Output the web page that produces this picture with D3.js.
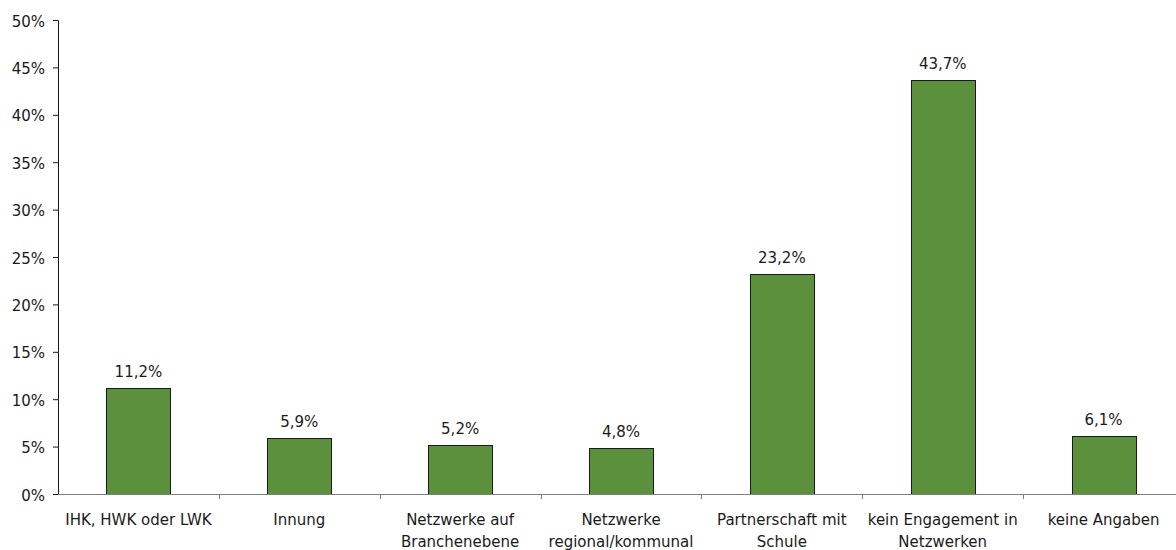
<!DOCTYPE html>
<html>
<head>
<meta charset="utf-8">
<script src="https://cdn.jsdelivr.net/npm/d3@7"></script>
<style>
body { margin: 0; background: #fff; }
text { font-family: "DejaVu Sans", sans-serif; fill: #1a1a1a; }
</style>
</head>
<body>
<svg id="chart" width="1176" height="550"></svg>
<script>
"use strict";

var categories = [
	["IHK, HWK oder LWK"],
	["Innung"],
	["Netzwerke auf", "Branchenebene"],
	["Netzwerke", "regional/kommunal"],
	["Partnerschaft mit", "Schule"],
	["kein Engagement in", "Netzwerken"],
	["keine Angaben"]
];
var values = [11.2, 5.9, 5.2, 4.8, 23.2, 43.7, 6.1];
var yTicks = [0, 5, 10, 15, 20, 25, 30, 35, 40, 45, 50];

var svg = d3.select("#chart");
var plotLeft = 58, plotRight = 1184, plotTop = 20, plotBottom = 494;

var x = d3.scaleBand()
	.domain(d3.range(categories.length))
	.range([plotLeft, plotRight]);
var y = d3.scaleLinear()
	.domain([0, 50])
	.range([plotBottom, plotTop]);

var barW = 64;

// y axis
var yAxis = svg.append("g")
	.attr("transform", "translate(" + plotLeft + ",0)")
	.call(d3.axisLeft(y).tickValues(yTicks).tickSize(5).tickPadding(8)
		.tickFormat(d => d + "%"));
yAxis.select(".domain").attr("stroke", "#1a1a1a");
yAxis.selectAll(".tick line").attr("stroke", "#1a1a1a");
yAxis.selectAll("text")
	.style("font-size", "15px")
	.attr("dy", "0.4em")
	.attr("fill", "#1a1a1a");

// bars
svg.append("g")
	.selectAll("rect")
	.data(values)
	.enter()
	.append("rect")
	.attr("x", (d, i) => Math.round(x(i) + x.bandwidth() / 2 - barW / 2) + 0.5)
	.attr("y", d => Math.round(y(d)) + 0.5)
	.attr("width", barW)
	.attr("height", d => plotBottom - Math.round(y(d)))
	.attr("fill", "#5b903c")
	.attr("stroke", "#1a1a1a")
	.attr("stroke-width", 1);

// value labels
svg.append("g")
	.selectAll("text")
	.data(values)
	.enter()
	.append("text")
	.attr("x", (d, i) => x(i) + x.bandwidth() / 2)
	.attr("y", d => y(d) - 11)
	.attr("text-anchor", "middle")
	.style("font-size", "15px")
	.text(d => d.toFixed(1).replace(".", ",") + "%");

// x axis line and ticks
var xg = svg.append("g");
xg.append("line")
	.attr("x1", plotLeft).attr("x2", 1176)
	.attr("y1", plotBottom + 0.5).attr("y2", plotBottom + 0.5)
	.attr("stroke", "#808080");
xg.selectAll("line.tk")
	.data(d3.range(1, categories.length))
	.enter()
	.append("line")
	.attr("class", "tk")
	.attr("x1", i => Math.round(x(i)) + 0.5)
	.attr("x2", i => Math.round(x(i)) + 0.5)
	.attr("y1", plotBottom)
	.attr("y2", plotBottom + 5)
	.attr("stroke", "#808080");

// category labels
var lab = xg.selectAll("text.cat")
	.data(categories)
	.enter()
	.append("text")
	.attr("class", "cat")
	.attr("text-anchor", "middle")
	.style("font-size", "15px");
lab.selectAll("tspan")
	.data((d, i) => d.map(s => ({s: s, i: i})))
	.enter()
	.append("tspan")
	.attr("x", d => x(d.i) + x.bandwidth() / 2)
	.attr("y", (d, j) => plotBottom + 31 + j * 22)
	.text(d => d.s);
</script>
</body>
</html>
